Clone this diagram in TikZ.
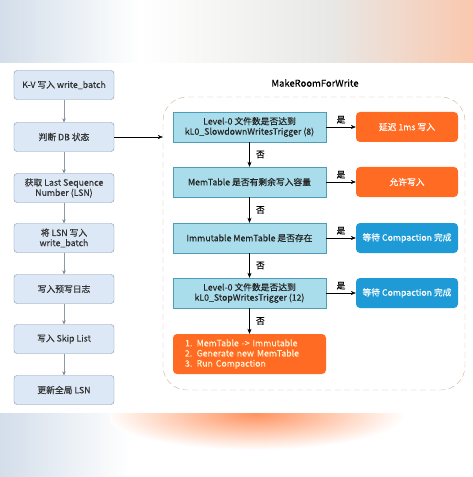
\documentclass[tikz,border=0pt]{standalone}
\usepackage{fontspec}
\setmainfont{Noto Sans CJK SC}[FakeBold=0.35]
\usetikzlibrary{arrows.meta,positioning}
\definecolor{leftfill}{HTML}{DCE8F6}
\definecolor{leftdraw}{HTML}{7F93AD}
\definecolor{leftarrow}{HTML}{8C99AA}
\definecolor{askfill}{HTML}{A9DDEB}
\definecolor{askdraw}{HTML}{4E9DB6}
\definecolor{hotorange}{HTML}{FF6B22}
\definecolor{waitblue}{HTML}{1E9BD7}
\definecolor{roomdash}{HTML}{CFAE98}
\definecolor{hazeblue}{HTML}{D3DEEA}
\definecolor{hazegray}{HTML}{E8E8E6}
\definecolor{hazepeach}{HTML}{FAC8AE}
\definecolor{hazeorange}{HTML}{FF935F}
\definecolor{listtext}{HTML}{FFF2D2}

\begin{document}
\begin{tikzpicture}[x=1bp,y=-1bp,font=\fontsize{8.8}{10.2}\selectfont,
  lbox/.style={draw=leftdraw,fill=leftfill,rounded corners=3bp,minimum width=100bp,minimum height=29bp,align=center,text=black!80},
  ask/.style={draw=askdraw,fill=askfill,minimum width=153bp,minimum height=30bp,align=center,text=black!85},
  hot/.style={fill=hotorange,rounded corners=4bp,minimum width=102bp,minimum height=30bp,text=white},
  wait/.style={fill=waitblue,rounded corners=4bp,minimum width=102bp,minimum height=30bp,text=white}]
\useasboundingbox (0,0) rectangle (473,477);
% blurred bands at top and bottom
\shade[left color=hazeblue,right color=white] (0,0) rectangle (140,63);
\shade[left color=white,right color=hazegray] (140,0) rectangle (330,63);
\shade[left color=hazegray,right color=hazepeach] (330,0) rectangle (473,63);
\shade[left color=hazeblue,right color=white] (0,413) rectangle (130,477);
\begin{scope}
\clip (110,413) rectangle (410,477);
\shade[inner color=hazeorange,outer color=white] (255,414) ellipse (150bp and 36bp);
\end{scope}
% write path
\node[lbox] (A) at (64,85) {K-V 写入 write\_batch};
\node[lbox] (B) at (64,137) {判断 DB 状态};
\node[lbox] (C) at (64,188) {获取 Last Sequence\\Number (LSN)};
\node[lbox] (D) at (64,238) {将 LSN 写入\\write\_batch};
\node[lbox] (E) at (64,289) {写入预写日志};
\node[lbox] (F) at (64,339) {写入 Skip List};
\node[lbox] (G) at (64,390) {更新全局 LSN};
\path[->,draw=leftarrow,>={Stealth[length=4bp,width=3.5bp]}]
(A) edge (B)
(B) edge (C)
(C) edge (D)
(D) edge (E)
(E) edge (F)
(F) edge (G);
% MakeRoomForWrite
\node[draw=roomdash,dash pattern=on 6bp off 3.5bp,rounded corners=24bp,minimum width=302bp,minimum height=293bp] (R) at (314,243.5) {};
\node[font=\fontsize{9.5}{11}\selectfont] (T) at (315,83) {MakeRoomForWrite};
\node[ask] (Q1) at (249.5,127) {Level-0 文件数是否达到\\kL0\_SlowdownWritesTrigger (8)};
\node[ask] (Q2) at (249.5,182) {MemTable 是否有剩余写入容量};
\node[ask] (Q3) at (249.5,238) {Immutable MemTable 是否存在};
\node[ask] (Q4) at (249.5,293) {Level-0 文件数是否达到\\kL0\_StopWritesTrigger (12)};
\node[fill=hotorange,rounded corners=4bp,text width=129bp,inner xsep=12bp,minimum height=40bp,align=left,text=listtext] (Q5) at (249.5,354) {1. MemTable -> Immutable\\2. Generate new MemTable\\3. Run Compaction};
\node[hot] (S1) at (407,127) {延迟 1ms 写入};
\node[hot] (S2) at (407,182) {允许写入};
\node[wait] (S3) at (407,238) {等待 Compaction 完成};
\node[wait] (S4) at (407,293) {等待 Compaction 完成};
\draw[->,>={Stealth[length=5bp,width=4bp]}] (B) -- (B -| R.west);
\path[->,>={Stealth[length=5bp,width=4bp]}]
(Q1) edge node[above]{是} (S1)
(Q2) edge node[above]{是} (S2)
(Q3) edge node[above]{是} (S3)
(Q4) edge node[above]{是} (S4)
(Q1) edge node[right=3bp]{否} (Q2)
(Q2) edge node[right=3bp]{否} (Q3)
(Q3) edge node[right=3bp]{否} (Q4)
(Q4) edge node[right=3bp]{否} (Q5);
\end{tikzpicture}
\end{document}
